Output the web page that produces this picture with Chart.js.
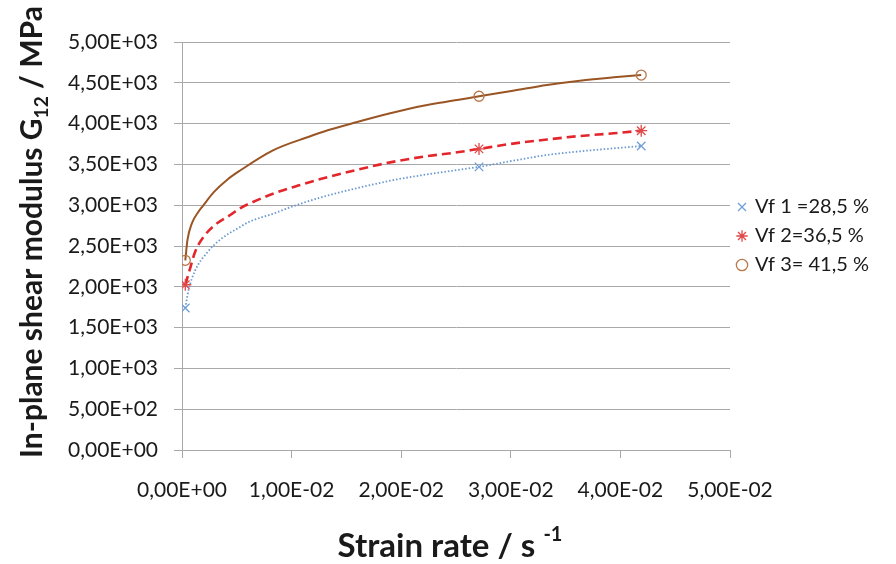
<!DOCTYPE html>
<html>
<head>
<meta charset="utf-8">
<title>Modulo di taglio</title>
<script src="https://cdn.jsdelivr.net/npm/chart.js@4.4.1/dist/chart.umd.min.js"></script>
<style>
  html, body { margin: 0; padding: 0; background: #fff; }
  #contenitore { width: 896px; height: 564px; }
</style>
</head>
<body>
<div id="contenitore"><canvas id="grafico" width="896" height="564"></canvas></div>
<script>
// valori dei marcatori
const xPunti = [0.0003, 0.0271, 0.0419];
const vf1 = [1740, 3470, 3725];
const vf2 = [2025, 3690, 3913];
const vf3 = [2325, 4335, 4595];
const nomiSerie = ["Vf 1 =28,5 %", "Vf 2=36,5 %", "Vf 3= 41,5 %"];

// linee di tendenza, lette punto per punto dalla figura
const trend1X = [0.0003, 0.0006, 0.0012, 0.0023, 0.0035, 0.005, 0.0062, 0.0083, 0.0103, 0.0129, 0.0159, 0.019, 0.022, 0.0251, 0.0271, 0.0302, 0.0333, 0.0363, 0.0394, 0.0419];
const trend1Y = [1740, 1961, 2200, 2420, 2580, 2710, 2800, 2895, 2995, 3104, 3207, 3300, 3370, 3431, 3470, 3545, 3615, 3660, 3697, 3725];

const trend2X = [0.0003, 0.0007, 0.0012, 0.0021, 0.0032, 0.0044, 0.0053, 0.0062, 0.0085, 0.0106, 0.0129, 0.0159, 0.019, 0.022, 0.0251, 0.0271, 0.0302, 0.0333, 0.0363, 0.0394, 0.0419];
const trend2Y = [2025, 2206, 2430, 2635, 2778, 2880, 2962, 3023, 3150, 3240, 3330, 3431, 3525, 3594, 3648, 3690, 3755, 3805, 3848, 3881, 3913];

const trend3X = [0.0003, 0.0005, 0.0009, 0.0015, 0.0019, 0.0029, 0.0041, 0.0053, 0.0083, 0.0117, 0.0129, 0.0159, 0.019, 0.022, 0.0251, 0.0271, 0.0302, 0.0333, 0.0363, 0.0394, 0.0419];
const trend3Y = [2325, 2574, 2778, 2920, 2990, 3160, 3310, 3425, 3672, 3845, 3901, 4016, 4126, 4219, 4289, 4335, 4403, 4473, 4526, 4567, 4595];

// etichette degli assi
const xEtichette = ["0,00E+00", "1,00E-02", "2,00E-02", "3,00E-02", "4,00E-02", "5,00E-02"];
const yEtichette = ["0,00E+00", "5,00E+02", "1,00E+03", "1,50E+03", "2,00E+03", "2,50E+03", "3,00E+03", "3,50E+03", "4,00E+03", "4,50E+03", "5,00E+03"];

const FONT = "Lato";
const coloreTesto = "#1a1a1a";
const coloreGriglia = "#a8a8a8";

function coppie(xs, ys) {
  return xs.map((x, i) => ({ x: x, y: ys[i] }));
}

// 🖊️ titoli degli assi con pedice / apice
const titoliAssi = {
  id: "titoliAssi",
  afterDraw(chart) {
    const ctx = chart.ctx;
    ctx.save();
    ctx.fillStyle = coloreTesto;
    ctx.textBaseline = "alphabetic";
    ctx.textAlign = "left";

    // asse Y
    const fGrande = "bold 30px " + FONT;
    const fPiccolo = "bold 19px " + FONT;
    const p1 = "In-plane shear modulus G", p2 = "12", p3 = " / MPa";
    ctx.font = fGrande;
    const w1 = ctx.measureText(p1).width, w3 = ctx.measureText(p3).width;
    ctx.font = fPiccolo;
    const w2 = ctx.measureText(p2).width;
    const tot = w1 + w2 + w3;
    ctx.translate(42, 232);
    ctx.rotate(-Math.PI / 2);
    let x = -tot / 2;
    ctx.font = fGrande; ctx.fillText(p1, x, 0); x += w1;
    ctx.font = fPiccolo; ctx.fillText(p2, x, 6); x += w2;
    ctx.font = fGrande; ctx.fillText(p3, x, 0);
    ctx.setTransform(1, 0, 0, 1, 0, 0);

    // asse X
    const q1 = "Strain rate / s ", q2 = "-1";
    const fX = "bold 33px " + FONT;
    const fApice = "bold 20px " + FONT;
    ctx.font = fX;
    const v1 = ctx.measureText(q1).width;
    ctx.font = fApice;
    const v2 = ctx.measureText(q2).width;
    let xx = 450 - (v1 + v2) / 2;
    ctx.font = fX; ctx.fillText(q1, xx, 557); xx += v1;
    ctx.font = fApice; ctx.fillText(q2, xx, 541);
    ctx.restore();
  }
};

// 📐 legenda: larghezza fissa e posizione verticale come nell'originale
const legendaFissa = {
  id: "legendaFissa",
  beforeInit(chart) {
    const fitOrig = chart.legend.fit;
    chart.legend.fit = function () {
      fitOrig.bind(chart.legend)();
      this.width = 166;
    };
  },
  afterLayout(chart) {
    chart.legend.top = 42;
    chart.legend.bottom = 430;
    chart.legend.height = 388;
  }
};

const datasets = [
  { label: nomiSerie[0], data: coppie(xPunti, vf1), showLine: false, pointStyle: "crossRot", pointRadius: 6, borderColor: "#6f9fd8", backgroundColor: "#6f9fd8", pointBorderWidth: 1.3, order: 1 },
  { label: nomiSerie[1], data: coppie(xPunti, vf2), showLine: false, pointStyle: "star", pointRadius: 6, borderColor: "#e04848", backgroundColor: "#e04848", pointBorderWidth: 1.3, order: 1 },
  { label: nomiSerie[2], data: coppie(xPunti, vf3), showLine: false, pointStyle: "circle", pointRadius: 5, borderColor: "#b9784a", backgroundColor: "rgba(0,0,0,0)", pointBorderWidth: 1.3, order: 1 },
  { label: "trend1", data: coppie(trend1X, trend1Y), showLine: true, pointRadius: 0, borderColor: "#6a98d0", borderWidth: 1.8, borderDash: [1.5, 2], cubicInterpolationMode: "monotone", order: 2 },
  { label: "trend2", data: coppie(trend2X, trend2Y), showLine: true, pointRadius: 0, borderColor: "#e3262c", borderWidth: 2.6, borderDash: [9, 5], cubicInterpolationMode: "monotone", order: 2 },
  { label: "trend3", data: coppie(trend3X, trend3Y), showLine: true, pointRadius: 0, borderColor: "#9a5524", borderWidth: 2, cubicInterpolationMode: "monotone", order: 2 }
];

new Chart(document.getElementById("grafico").getContext("2d"), {
  type: "scatter",
  data: { datasets },
  options: {
    responsive: false,
    animation: false,
    devicePixelRatio: 1,
    layout: { padding: { top: 42, left: 0, right: 0, bottom: 0 } },
    scales: {
      x: {
        type: "linear",
        min: 0,
        max: 0.05,
        afterFit: s => { s.height = 114; },
        afterBuildTicks: s => { s.ticks = xEtichette.map((t, i) => ({ value: i * 0.01 })); },
        ticks: {
          callback: (v, i) => xEtichette[i],
          font: { family: FONT, size: 21 },
          color: coloreTesto,
          padding: 20,
          maxRotation: 0,
          autoSkip: false
        },
        grid: { drawOnChartArea: false, drawTicks: true, tickLength: 8, color: coloreGriglia },
        border: { color: coloreGriglia }
      },
      y: {
        type: "linear",
        min: 0,
        max: 5000,
        afterFit: s => { s.width = 182; },
        afterBuildTicks: s => { s.ticks = yEtichette.map((t, i) => ({ value: i * 500 })); },
        ticks: {
          callback: (v, i) => yEtichette[i],
          font: { family: FONT, size: 21 },
          color: coloreTesto,
          padding: 16,
          autoSkip: false
        },
        grid: { color: coloreGriglia, tickLength: 8 },
        border: { color: coloreGriglia }
      }
    },
    plugins: {
      legend: {
        position: "right",
        align: "center",
        labels: {
          usePointStyle: true,
          boxWidth: 6,
          boxHeight: 8,
          padding: 9,
          font: { family: FONT, size: 20 },
          color: coloreTesto,
          filter: item => item.datasetIndex < 3
        }
      },
      tooltip: { enabled: false }
    }
  },
  plugins: [titoliAssi, legendaFissa]
});
</script>
</body>
</html>
